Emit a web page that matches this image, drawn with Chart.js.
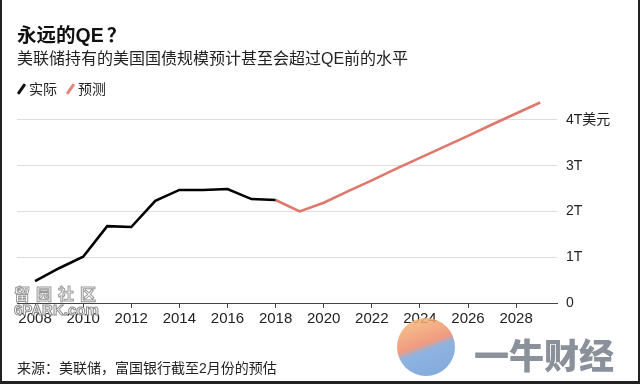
<!DOCTYPE html>
<html>
<head>
<meta charset="utf-8">
<script src="https://cdn.jsdelivr.net/npm/chart.js@4"></script>
<style>
  html, body { margin: 0; padding: 0; background: #fff; }
  body { width: 640px; height: 384px; position: relative; overflow: hidden;
         font-family: "Liberation Sans", "Noto Sans CJK SC", sans-serif; color: #111; }
  #frame { position: absolute; left: 0; top: 0; width: 636px; height: 381px;
           border-left: 2px solid #222; border-right: 2px solid #222; border-bottom: 3px solid #222; }
  canvas { position: absolute; left: 0; top: 0; }
  .txt { position: absolute; white-space: nowrap; }
  #title { left: 17px; top: 19px; font-size: 19.5px; font-weight: bold; }
  #title .q { font-family: "Noto Sans CJK SC", sans-serif; margin-left: 3px; }
  #subtitle { left: 17px; top: 45px; font-size: 16px; color: #222; }
  #legend { left: 16px; top: 78px; font-size: 14px; color: #222; }
  .slash { display: inline-block; width: 3px; height: 12px; transform: rotate(35deg);
           vertical-align: -1px; margin: 0 6px 0 4px; border-radius: 1px; }
  #source { left: 17px; top: 357px; font-size: 14px; color: #222; }
  #wm1 { left: 14px; top: 281px; font-size: 16px; letter-spacing: 6px; color: #fff;
         -webkit-text-stroke: 1px #9a9a9a; font-weight: bold; }
  #wm2 { left: 14px; top: 301px; font-size: 15px; color: #fff; -webkit-text-stroke: 1px #8a8a8a; font-weight: bold; }
  #logo { position: absolute; left: 397px; top: 318px; width: 58px; height: 58px; border-radius: 50%;
          background: linear-gradient(160deg, #f6c17a 0%, #ee8a6a 45%, #7aa6dc 55%, #6b9ad6 100%); opacity: 0.85; }
  #wm3 { left: 474px; top: 328px; font-size: 35px; font-weight: 900; color: #7f858f; opacity: 0.9; }
</style>
</head>
<body>
<div id="frame"></div>
<canvas id="myChart" width="640" height="384"></canvas>
<div class="txt" id="title">永远的QE<span class="q">？</span></div>
<div class="txt" id="subtitle">美联储持有的美国国债规模预计甚至会超过QE前的水平</div>
<div class="txt" id="legend"><span class="slash" style="background:#111"></span>实际 <span class="slash" style="background:#e4857a;margin-left:8px"></span>预测</div>
<div class="txt" id="source">来源：美联储，富国银行截至2月份的预估</div>
<div class="txt" id="wm1">留园社区</div>
<div class="txt" id="wm2">6PARK.com</div>
<div id="logo"></div>
<div class="txt" id="wm3">一牛财经</div>
<script>
// values, trillions of dollars
const actualYears = [2008, 2009, 2010, 2011, 2012, 2013, 2014, 2015, 2016, 2017, 2018];
const actualValues = [0.48, 0.76, 1.01, 1.68, 1.66, 2.23, 2.47, 2.47, 2.49, 2.27, 2.25];

const forecastYears = [2018, 2019, 2020, 2021, 2022, 2023, 2024, 2025, 2026, 2027, 2028, 2029];
const forecastValues = [2.25, 2.0, 2.19, 2.44, 2.68, 2.93, 3.17, 3.41, 3.65, 3.90, 4.14, 4.38];

const xTickYears = [2008, 2010, 2012, 2014, 2016, 2018, 2020, 2022, 2024, 2026, 2028];
const yTickValues = [0, 1, 2, 3, 4];
const yTickLabels = ['0', '1T', '2T', '3T', '4T美元'];

const FONT = "'Liberation Sans', 'Noto Sans CJK SC', sans-serif";
const RED = '#e0776b';

function toPoints(xs, ys) {
  let pts = [];
  for (let i = 0; i < xs.length; i++) {
    pts.push({x: xs[i], y: ys[i]});
  }
  return pts;
}

const data = {
  datasets: [
    {
      label: '实际',
      data: toPoints(actualYears, actualValues),
      borderColor: '#000',
      borderWidth: 2.6,
      pointRadius: 0,
      tension: 0
    },
    {
      label: '预测',
      data: toPoints(forecastYears, forecastValues),
      borderColor: RED,
      borderWidth: 2.6,
      pointRadius: 0,
      tension: 0
    }
  ]
};

const config = {
  type: 'line',
  data: data,
  options: {
    responsive: false,
    animation: false,
    layout: { padding: { left: 17, right: 3, top: 97, bottom: 57 } },
    plugins: {
      legend: { display: false },
      title: { display: false },
      tooltip: { enabled: false }
    },
    scales: {
      x: {
        type: 'linear',
        min: 2007.25,
        max: 2029.7,
        afterBuildTicks: (axis) => { axis.ticks = xTickYears.map(v => ({value: v})); },
        afterFit: (axis) => { axis.height = 24; },
        grid: { drawOnChartArea: false, drawTicks: true, tickLength: 5, color: '#444' },
        border: { display: true, color: '#444', width: 1 },
        ticks: {
          autoSkip: false, maxRotation: 0, padding: 2, color: '#222',
          font: { family: FONT, size: 15 },
          callback: (v) => String(v)
        }
      },
      y: {
        position: 'right',
        min: 0,
        max: 4.5,
        afterBuildTicks: (axis) => { axis.ticks = yTickValues.map(v => ({value: v})); },
        afterFit: (axis) => { axis.width = 80; },
        grid: {
          drawTicks: false,
          color: (ctx) => (ctx.tick && ctx.tick.value === 0) ? '#444' : '#dedede',
          lineWidth: 1
        },
        border: { display: false },
        ticks: {
          padding: 9, color: '#222',
          font: { family: FONT, size: 14 },
          callback: (v) => yTickLabels[yTickValues.indexOf(v)]
        }
      }
    }
  }
};

const myChart = new Chart(document.getElementById('myChart'), config);
</script>
</body>
</html>
